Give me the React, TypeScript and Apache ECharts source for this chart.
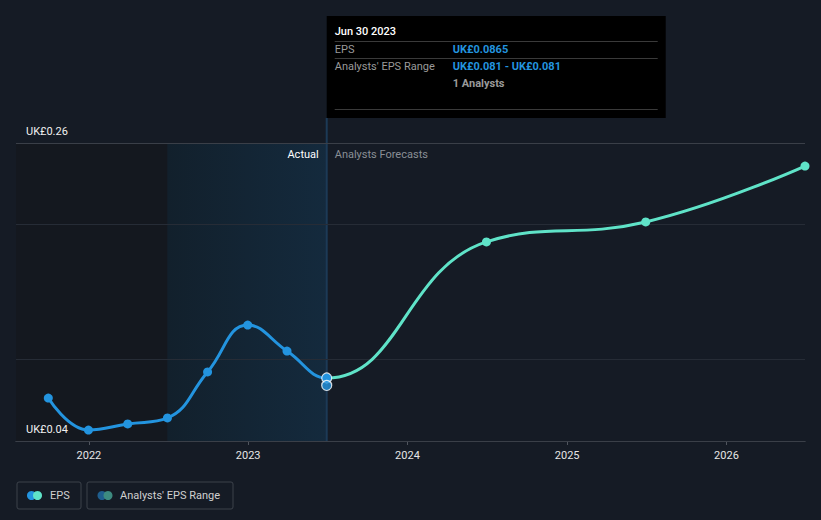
import React, { useEffect, useRef } from "react";
import * as echarts from "echarts";

const actualDates = ["2021-09-30", "2021-12-31", "2022-03-31", "2022-06-30", "2022-09-30", "2022-12-31", "2023-03-31", "2023-06-30"];
const actualEps = [0.0717, 0.0481, 0.0526, 0.057, 0.091, 0.1256, 0.1064, 0.0865];
const forecastDates = ["2024-06-30", "2025-06-30", "2026-06-30"];
const forecastEps = [0.187, 0.2017, 0.243];
const rangeDate = "2023-06-30";
const rangeLow = 0.081;
const rangeHigh = 0.081;
const analystsCount = 1;
const yMin = 0.04;
const yMax = 0.26;
const extraGridValues = [0.1, 0.2];
const xMin = "2021-07-18";
const xMax = "2026-06-30";
const pastStart = "2021-07-18";
const actualStart = "2022-06-30";
const actualEnd = "2023-06-30";

const BG = "#151b25";
const BLUE = "#2394df";
const TEAL = "#5fe3c8";
const FONT = "Roboto, 'Noto Sans', sans-serif";
const W = 821;

export default function App() {
  const ref = useRef<HTMLDivElement>(null);
  useEffect(() => {
    if (!ref.current) return;
    const chart = echarts.init(ref.current, null, { renderer: "svg" });
    const splitTs = new Date(actualEnd).getTime();
    const allData = [
      ...actualDates.map((d, i) => ({ value: [new Date(d).getTime(), actualEps[i]], itemStyle: { color: BLUE } })),
      ...forecastDates.map((d, i) => ({ value: [new Date(d).getTime(), forecastEps[i]], itemStyle: { color: TEAL } })),
    ];
    chart.setOption({
      animation: false,
      backgroundColor: BG,
      textStyle: { fontFamily: FONT },
      grid: { left: 16, right: 16, top: 143, bottom: 79 },
      xAxis: {
        type: "time",
        min: xMin,
        max: xMax,
        splitNumber: 5,
        axisLine: { lineStyle: { color: "#50555e", width: 1 } },
        axisTick: { show: true, length: 4, lineStyle: { color: "#50555e" } },
        axisLabel: {
          color: "#e6e6e6",
          fontSize: 11,
          margin: 9,
          fontFamily: FONT,
          formatter: (v: number) => String(new Date(v).getFullYear()),
        },
        splitLine: { show: false },
      },
      yAxis: {
        type: "value",
        min: yMin,
        max: yMax,
        interval: yMax - yMin,
        axisLine: { show: false },
        axisTick: { show: false },
        z: 10,
        axisLabel: {
          inside: true,
          showMinLabel: true,
          showMaxLabel: true,
          margin: 10,
          verticalAlign: "bottom",
          padding: [0, 0, 6, 0],
          color: "#f0f0f0",
          fontSize: 11,
          fontFamily: FONT,
          formatter: (v: number) => "UK£" + v.toFixed(2),
        },
        splitLine: { show: true, lineStyle: { color: "#3a3f48", width: 1 } },
      },
      series: [
        {
          type: "line",
          name: "EPS",
          data: allData,
          smooth: 0.45,
          symbol: "circle",
          symbolSize: 9,
          showSymbol: true,
          lineStyle: { width: 3, color: BLUE },
          z: 5,
          markArea: {
            silent: true,
            data: [
              [{ xAxis: pastStart, itemStyle: { color: "#14181f" } }, { xAxis: actualStart }],
              [
                {
                  xAxis: actualStart,
                  itemStyle: {
                    color: new echarts.graphic.LinearGradient(0, 0, 1, 0, [
                      { offset: 0, color: "#12202c" },
                      { offset: 1, color: "#142a3d" },
                    ]),
                  },
                },
                { xAxis: actualEnd },
              ],
            ],
          },
          markLine: {
            silent: true,
            symbol: "none",
            label: { show: false },
            lineStyle: { color: "#262c36", width: 1, type: "solid" },
            data: extraGridValues.map((v) => ({ yAxis: v })),
          },
        },
        {
          type: "scatter",
          name: "Highlight",
          data: [
            [rangeDate, actualEps[actualEps.length - 1]],
            [rangeDate, rangeLow],
          ],
          symbol: "circle",
          symbolSize: 10,
          itemStyle: { color: BLUE, borderColor: "#ffffff", borderWidth: 1.2 },
          z: 6,
        },
      ],
    });

    const lineX = chart.convertToPixel({ xAxisIndex: 0 }, splitTs) as number;
    const topY = chart.convertToPixel({ yAxisIndex: 0 }, yMax) as number;
    const botY = chart.convertToPixel({ yAxisIndex: 0 }, yMin) as number;
    const f = lineX / W;
    const tipX = lineX;
    const tipY = 16;
    const tipW = 339;
    const tipH = 102;
    const col2 = 126;
    const fmt = (v: number, d: number) => "UK£" + v.toFixed(d);

    chart.setOption({
      series: [
        {
          lineStyle: {
            width: 3,
            color: new echarts.graphic.LinearGradient(
              0,
              0,
              W,
              0,
              [
                { offset: 0, color: BLUE },
                { offset: f, color: BLUE },
                { offset: f, color: TEAL },
                { offset: 1, color: TEAL },
              ],
              true
            ),
          },
        },
      ],
      graphic: [
        {
          type: "line",
          z: 3,
          shape: { x1: lineX, y1: tipY + tipH, x2: lineX, y2: botY },
          style: { stroke: "#1c3a56", lineWidth: 2 },
        },
        {
          type: "text",
          z: 50,
          x: lineX - 8,
          y: topY + 11,
          style: { text: "Actual", fill: "#ffffff", font: `11px ${FONT}`, align: "right", verticalAlign: "middle" },
        },
        {
          type: "text",
          z: 50,
          x: lineX + 8,
          y: topY + 11,
          style: { text: "Analysts Forecasts", fill: "#8a8f96", font: `11px ${FONT}`, align: "left", verticalAlign: "middle" },
        },
        {
          type: "group",
          x: tipX,
          y: tipY,
          z: 20,
          children: [
            { type: "rect", shape: { x: 0, y: 0, width: tipW, height: tipH }, style: { fill: "#000000" } },
            { type: "text", x: 8, y: 15, style: { text: "Jun 30 2023", fill: "#ffffff", font: `500 11px ${FONT}`, verticalAlign: "middle" } },
            { type: "line", shape: { x1: 8, y1: 25.5, x2: tipW - 8, y2: 25.5 }, style: { stroke: "#3a3a3a", lineWidth: 1 } },
            { type: "text", x: 8, y: 33, style: { text: "EPS", fill: "#9a9a9a", font: `11px ${FONT}`, verticalAlign: "middle" } },
            { type: "text", x: col2, y: 33, style: { text: fmt(actualEps[actualEps.length - 1], 4), fill: BLUE, font: `bold 11px ${FONT}`, verticalAlign: "middle" } },
            { type: "line", shape: { x1: 8, y1: 42.5, x2: tipW - 8, y2: 42.5 }, style: { stroke: "#3a3a3a", lineWidth: 1 } },
            { type: "text", x: 8, y: 50, style: { text: "Analysts' EPS Range", fill: "#9a9a9a", font: `11px ${FONT}`, verticalAlign: "middle" } },
            { type: "text", x: col2, y: 50, style: { text: fmt(rangeLow, 3) + " - " + fmt(rangeHigh, 3), fill: BLUE, font: `bold 11px ${FONT}`, verticalAlign: "middle" } },
            { type: "text", x: col2, y: 67, style: { text: `${analystsCount} Analysts`, fill: "#9a9a9a", font: `bold 11px ${FONT}`, verticalAlign: "middle" } },
            { type: "line", shape: { x1: 8, y1: 93.5, x2: tipW - 8, y2: 93.5 }, style: { stroke: "#3a3a3a", lineWidth: 1 } },
          ],
        },
        {
          type: "group",
          x: 17,
          y: 482,
          children: [
            { type: "rect", shape: { x: 0, y: 0, width: 64, height: 27, r: 2 }, style: { fill: "none", stroke: "#3c424b", lineWidth: 1 } },
            { type: "circle", shape: { cx: 14.5, cy: 13.5, r: 4.5 }, style: { fill: BLUE } },
            { type: "circle", shape: { cx: 20.5, cy: 13.5, r: 4.5 }, style: { fill: TEAL } },
            { type: "text", x: 33, y: 13.5, style: { text: "EPS", fill: "#d0d0d0", font: `11px ${FONT}`, verticalAlign: "middle" } },
            { type: "rect", shape: { x: 70, y: 0, width: 146, height: 27, r: 2 }, style: { fill: "none", stroke: "#3c424b", lineWidth: 1 } },
            { type: "circle", shape: { cx: 85, cy: 13.5, r: 4.5 }, style: { fill: "#1f5e8e" } },
            { type: "circle", shape: { cx: 91, cy: 13.5, r: 4.5 }, style: { fill: "#3d8b80" } },
            { type: "text", x: 103, y: 13.5, style: { text: "Analysts' EPS Range", fill: "#d0d0d0", font: `11px ${FONT}`, verticalAlign: "middle" } },
          ],
        },
      ],
    });

    return () => chart.dispose();
  }, []);
  return <div ref={ref} style={{ position: "fixed", left: 0, top: 0, width: 821, height: 520 }} />;
}
